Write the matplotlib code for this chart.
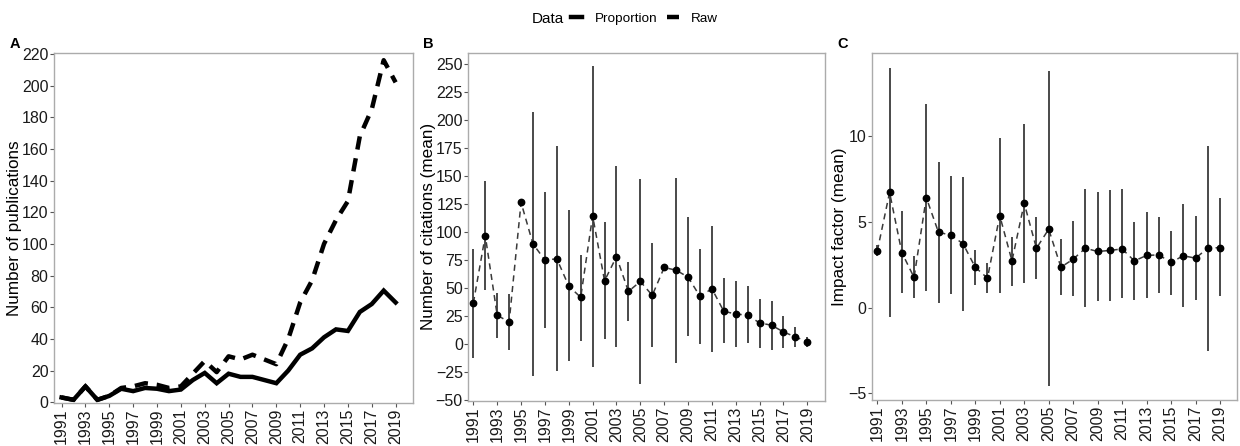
import numpy as np
import matplotlib.pyplot as plt
from matplotlib.lines import Line2D

plt.rcParams['font.family'] = ['Liberation Sans', 'DejaVu Sans']

years = list(range(1991, 2020))

# panel A: number of publications
proportion = [3, 1.5, 10, 1.5, 4, 8.5, 7, 9, 8.5, 7, 8, 14, 18.5, 12, 18, 16, 16, 14, 12,
              20, 30, 34, 41, 46, 45, 57, 62, 70.5, 63]
raw = [3, 1.5, 10, 1.5, 4, 9, 10, 12, 11, 9, 10, 18, 26, 19, 29, 27, 30, 27, 24,
       40, 63, 77, 100, 115, 127, 168, 185, 216, 202]

# panel B: citations (mean, lower, upper)
cit_mean = [36.6, 96.7, 25.6, 19.6, 126.4, 89.3, 75, 76, 51.7, 41.6, 114.5, 56.4, 78, 46.9,
            55.8, 43.4, 68.3, 65.9, 59.7, 42.5, 49.3, 29.1, 26.8, 25.6, 18.8, 16.7, 10.7, 6.3, 1.9]
cit_low = [-12.4, 47.8, 5.4, -5.6, np.nan, -28.7, 14.6, -24.2, -15, 2.7, -20.4, 4, -2.6, 20.2,
           -36, -2.6, np.nan, -16.8, 7.2, -0.5, -7, 0.4, -2.6, 0.4, -3.2, -5.6, -3.2, -2.6, -2.6]
cit_up = [84.9, 146, 45.4, 44.8, np.nan, 207, 135.9, 176.8, 120, 79.8, 248.5, 109.2, 159, 73.6,
          147.7, 90.2, np.nan, 148.6, 113, 84.9, 105.6, 59.1, 56.1, 51.4, 40.5, 38.1, 25, 15.2, 6.3]

# panel C: impact factor (mean, lower, upper)
if_mean = [3.32, 6.73, 3.22, 1.76, 6.43, 4.39, 4.25, 3.73, 2.36, 1.72, 5.38, 2.73, 6.1, 3.47,
           4.58, 2.36, 2.83, 3.47, 3.28, 3.34, 3.43, 2.73, 3.05, 3.08, 2.64, 3.03, 2.89, 3.47, 3.51]
if_low = [2.99, -0.56, 0.84, 0.55, 0.98, 0.26, 0.79, -0.19, 1.33, 0.84, 0.88, 1.27, 1.43, 1.66,
          -4.61, 0.75, 0.65, 0.06, 0.36, 0.4, 0.55, 0.45, 0.55, 0.84, 0.75, 0.01, 0.42, -2.53, 0.69]
if_up = [3.67, 13.99, 5.62, 2.99, 11.89, 8.5, 7.7, 7.66, 3.38, 2.6, 9.94, 4.12, 10.74, 5.29,
         13.8, 4.02, 5.07, 6.92, 6.75, 6.88, 6.92, 5.03, 5.58, 5.32, 4.45, 6.05, 5.38, 9.45, 6.38]

fig = plt.figure(figsize=(12.4, 4.46), dpi=100)
axA = fig.add_axes([0.0435, 0.0964, 0.2895, 0.7846])
axB = fig.add_axes([0.3777, 0.1009, 0.2876, 0.7811])
axC = fig.add_axes([0.7030, 0.1031, 0.2943, 0.7789])

spine_col = '#ababab'
tick_fs = 11.5


def style(ax):
    for s in ax.spines.values():
        s.set_color(spine_col)
        s.set_linewidth(1.0)
    ax.tick_params(axis='both', colors='#555555', labelcolor='#1a1a1a', labelsize=tick_fs,
                   length=3, width=0.8, pad=1)
    ax.set_xticks(years[::2])
    ax.set_xticklabels([str(y) for y in years[::2]], rotation=90)


# A
axA.plot(years, proportion, color='black', lw=3.2, solid_joinstyle='miter')
axA.plot(years, raw, color='black', lw=3.2, linestyle=(0, (3, 2)))
axA.set_xlim(1990.36, 2020.45)
axA.set_ylim(-0.5, 220.5)
axA.set_yticks(range(0, 221, 20))
axA.set_ylabel('Number of publications', fontsize=12.3, labelpad=0)
style(axA)


def err_panel(ax, mean, low, up):
    m = np.array(mean)
    lo = np.array(low)
    hi = np.array(up)
    ax.vlines(years, lo, hi, color='#3a3a3a', lw=1.3)
    ax.plot(years, m, color='#3a3a3a', lw=1.1, linestyle=(0, (4, 3)))
    ax.plot(years, m, 'o', color='black', ms=4.6)


err_panel(axB, cit_mean, cit_low, cit_up)
axB.set_xlim(1990.58, 2020.48)
axB.set_ylim(-51, 260.3)
axB.set_yticks(range(-50, 251, 25))
axB.set_ylabel('Number of citations (mean)', fontsize=12.3, labelpad=0)
style(axB)

err_panel(axC, if_mean, if_low, if_up)
axC.set_xlim(1990.54, 2020.36)
axC.set_ylim(-5.4, 14.9)
axC.set_yticks([-5, 0, 5, 10])
axC.set_ylabel('Impact factor (mean)', fontsize=12.3, labelpad=1)
style(axC)

# panel letters
fig.text(0.008, 0.893, 'A', fontsize=10.5, fontweight='bold')
fig.text(0.341, 0.893, 'B', fontsize=10.5, fontweight='bold')
fig.text(0.675, 0.893, 'C', fontsize=10.5, fontweight='bold')

# legend on top
fig.text(0.4288, 0.958, 'Data', fontsize=11, va='center')
handles = [Line2D([], [], color='black', lw=3.2),
           Line2D([], [], color='black', lw=3.2, linestyle=(0, (3, 2)))]
fig.legend(handles, ['Proportion', 'Raw'], ncol=2, frameon=False, loc='center left',
           bbox_to_anchor=(0.4605, 0.958), fontsize=9.7, handlelength=0.85,
           handletextpad=0.9, columnspacing=0.75, borderaxespad=0, borderpad=0)

fig.savefig('out.png', dpi=100)
